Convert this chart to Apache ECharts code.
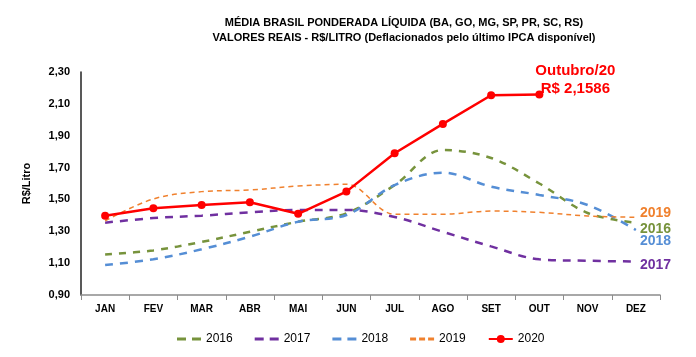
<!DOCTYPE html>
<html><head><meta charset="utf-8">
<script src="https://cdn.jsdelivr.net/npm/echarts@6/dist/echarts.min.js"></script>
<style>html,body{margin:0;padding:0;background:#fff}#c{width:696px;height:357px}</style>
</head><body><div id="c"></div>
<script>
const months = ['JAN','FEV','MAR','ABR','MAI','JUN','JUL','AGO','SET','OUT','NOV','DEZ'];
const s2016 = [1.155,1.18,1.233,1.297,1.36,1.413,1.59,1.81,1.76,1.60,1.415,1.354];
const s2017 = [1.354,1.383,1.398,1.419,1.434,1.434,1.39,1.297,1.205,1.124,1.115,1.11];
const s2018 = [1.088,1.124,1.187,1.266,1.36,1.402,1.59,1.668,1.58,1.528,1.465,1.308];
const s2019 = [1.366,1.503,1.549,1.559,1.584,1.595,1.407,1.407,1.427,1.419,1.396,1.388];
const s2020 = [1.398,1.444,1.465,1.482,1.41,1.549,1.79,1.974,2.154,2.1586];
const yTicks = [0.9,1.1,1.3,1.5,1.7,1.9,2.1,2.3];
const title1 = 'MÉDIA BRASIL PONDERADA LÍQUIDA (BA, GO, MG, SP, PR, SC, RS)';
const title2 = 'VALORES REAIS - R$/LITRO (Deflacionados pelo último IPCA disponível)';
const annotMonth = 'Outubro/20';

const font = 'Liberation Sans';
const chart = echarts.init(document.getElementById('c'));
const icon2 = 'path://M0,0h9v3H0zM15,0h9v3H15z';
const icon3 = 'path://M0,0h6v3H0zM9,0h6v3H9zM18,0h6v3H18z';
function dashSeries(name, data, color, width, dash, labelOffset){
  return {
    name, type:'line', data, smooth:0.35, symbol:'none',
    lineStyle:{color, width, type:dash},
    itemStyle:{color},
    endLabel:{show:true, formatter:name, color, fontFamily:font, fontWeight:'bold', fontSize:14, distance:4, offset:labelOffset},
    z:2
  };
}
const fmt = v => 'R$ ' + v.toFixed(4).replace('.', ',');
const redData = s2020.map((v,i)=> i===s2020.length-1 ? {
  value:v,
  label:{show:true, position:'top', offset:[36,12], align:'center',
    formatter: p => annotMonth + '\n' + fmt(p.value),
    color:'#ff0000', fontFamily:font, fontWeight:'bold', fontSize:15, lineHeight:18}
} : v);
chart.setOption({
  animation:false,
  title:{text:title1+'\n'+title2, left:399, textAlign:'center', top:10,
    textStyle:{fontFamily:font, fontWeight:'bold', fontSize:11, lineHeight:15, color:'#000'}},
  grid:{left:81, right:36, top:72, bottom:62},
  legend:{left:172, top:328, itemWidth:24, itemHeight:10, itemGap:22,
    textStyle:{fontFamily:font, fontSize:12, color:'#000'},
    data:[{name:'2016', icon:icon2, itemHeight:3},{name:'2017', icon:icon2},{name:'2018', icon:icon2},{name:'2019', icon:icon3},{name:'2020'}]},
  xAxis:{type:'category', data:months, boundaryGap:true,
    axisLine:{lineStyle:{color:'#8c8c8c', width:1.5}},
    axisTick:{show:true, length:5, lineStyle:{color:'#8c8c8c'}},
    axisLabel:{fontFamily:font, fontWeight:'bold', fontSize:10, color:'#000', margin:9}},
  yAxis:{type:'value', min:0.9, max:2.3, interval:0.2,
    name:'R$/Litro', nameLocation:'middle', nameGap:49, nameRotate:90,
    nameTextStyle:{fontFamily:font, fontWeight:'bold', fontSize:11, color:'#000'},
    axisLine:{show:true, lineStyle:{color:'#222', width:1.5}},
    axisTick:{show:false}, splitLine:{show:false},
    axisLabel:{fontFamily:font, fontWeight:'bold', fontSize:11, color:'#000', margin:11,
      formatter: v => { const t = yTicks.find(x=>Math.abs(x-v)<1e-6); return t!==undefined ? t.toFixed(2).replace('.',',') : ''; }}},
  series:[
    dashSeries('2016', s2016, '#77933c', 2.5, [7,7], [0,6]),
    dashSeries('2017', s2017, '#7030a0', 2.5, [8,7], [0,4]),
    dashSeries('2018', s2018, '#558ed5', 2.5, [8,7], [0,11]),
    dashSeries('2019', s2019, '#f0812e', 1.5, [5,4], [0,-4]),
    {name:'2020', type:'line', data:redData, symbol:'circle', symbolSize:8,
     lineStyle:{color:'#ff0000', width:2.5}, itemStyle:{color:'#ff0000'}, z:5}
  ]
});
</script></body></html>
